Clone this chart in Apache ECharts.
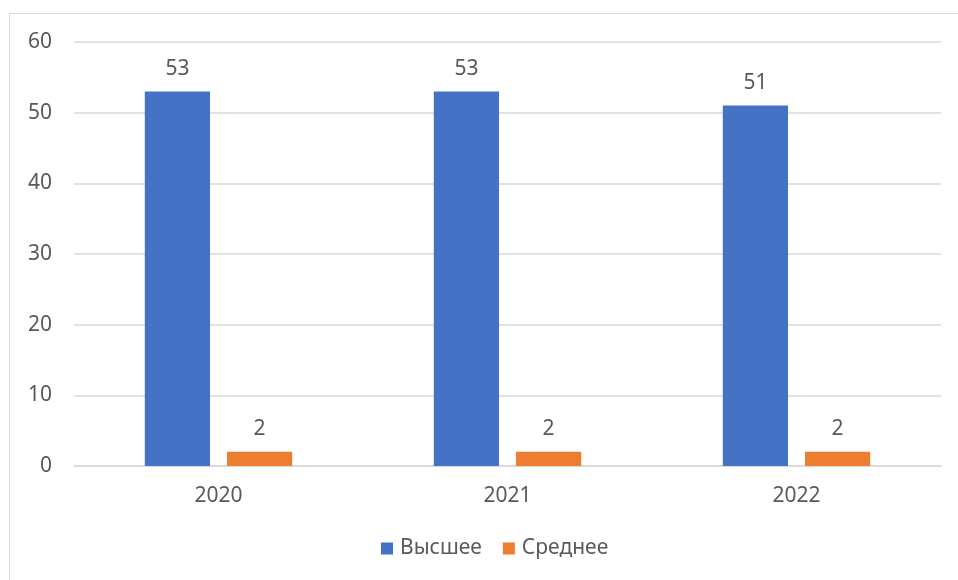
<!DOCTYPE html>
<html><head><meta charset="utf-8">
<script src="https://cdn.jsdelivr.net/npm/echarts@6/dist/echarts.min.js"></script>
<style>
html,body{margin:0;padding:0;background:#fff;}
#frame{position:absolute;left:9px;top:13px;width:960px;height:580px;border:1px solid #d9d9d9;box-sizing:border-box;}
#c{position:absolute;left:0;top:0;width:958px;height:580px;}
</style></head>
<body><div id="frame"></div><div id="c"></div>
<script>
const categories = ['2020','2021','2022'];
const seriesNames = ['Высшее','Среднее'];
const higher = [53,53,51];
const secondary = [2,2,2];
const yTicks = {min:0,max:60,interval:10};
const font = 'Noto Sans';
const txt = '#595959';
const fs = 21;
const chart = echarts.init(document.getElementById('c'));
chart.setOption({
  animation:false,
  textStyle:{fontFamily:font},
  grid:{left:74,right:17,top:42,bottom:114,containLabel:false},
  legend:{bottom:16,left:376,itemWidth:12,itemHeight:12,itemGap:21,icon:'rect',
    textStyle:{fontSize:fs,color:txt,fontFamily:font,padding:[0,0,0,2]},data:seriesNames},
  xAxis:{type:'category',data:categories,
    axisLine:{lineStyle:{color:'#d9d9d9',width:1.5}},axisTick:{show:false},
    axisLabel:{color:txt,fontSize:fs,margin:20,fontFamily:font}},
  yAxis:{type:'value',min:yTicks.min,max:yTicks.max,interval:yTicks.interval,
    axisLine:{show:false},axisTick:{show:false},
    splitLine:{lineStyle:{color:'#d9d9d9',width:1.5}},
    axisLabel:{color:txt,fontSize:fs,margin:22,fontFamily:font}},
  series:[
    {name:seriesNames[0],type:'bar',data:higher,barGap:'26%',barCategoryGap:'49%',
     itemStyle:{color:'#4472c4'},
     label:{show:true,position:'top',distance:12,color:txt,fontSize:fs,fontFamily:font}},
    {name:seriesNames[1],type:'bar',data:secondary,
     itemStyle:{color:'#ed7d31'},
     label:{show:true,position:'top',distance:12,color:txt,fontSize:fs,fontFamily:font}}
  ]
});
</script></body></html>
